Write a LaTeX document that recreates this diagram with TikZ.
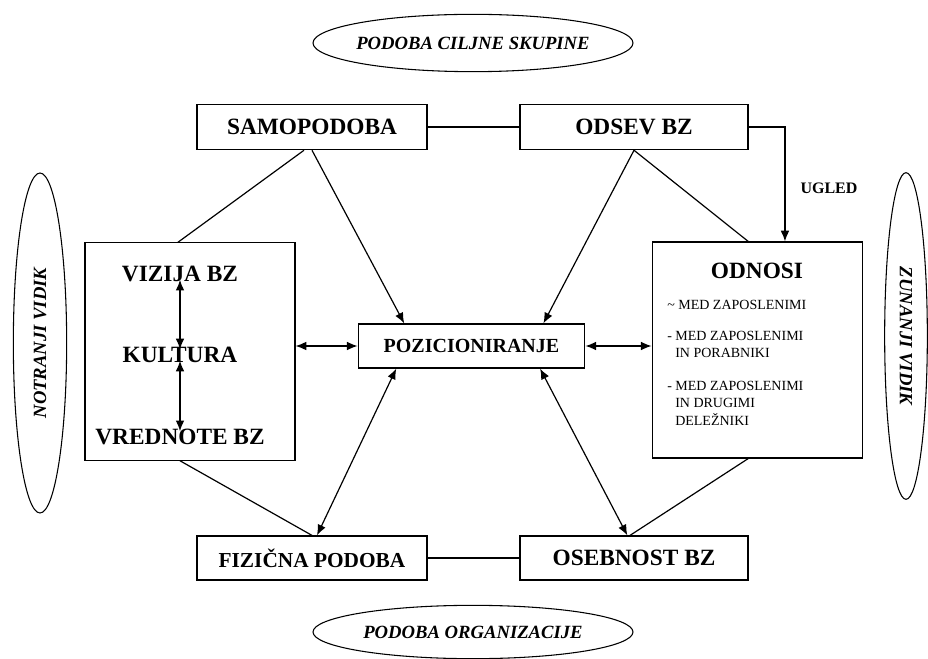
\documentclass[tikz,border=0pt]{standalone}
\usepackage{fontspec}
\setmainfont{Liberation Serif}
\usetikzlibrary{arrows.meta, shapes.geometric}

\tikzset{
  box/.style={draw, line width=0.9pt, inner sep=0pt, align=center,
    font=\bfseries\fontsize{17.5}{20}\selectfont},
  oval/.style={draw, ellipse, line width=0.8pt, inner xsep=-12pt, inner ysep=0pt,
    font=\bfseries\itshape\fontsize{14}{16}\selectfont},
  item/.style={anchor=north west, inner sep=0pt, align=left,
    font=\fontsize{10.5}{13}\selectfont},
  con/.style={line width=0.9pt},
  arr/.style={line width=0.9pt, -{Latex[length=8pt,width=6.5pt]}},
  twoarr/.style={line width=0.9pt, {Latex[length=8pt,width=6.5pt]}-{Latex[length=8pt,width=6.5pt]}}
}

\begin{document}
\begin{tikzpicture}[x=0.75pt,y=0.75pt,yscale=-1,xscale=1]
        \useasboundingbox (0,0) rectangle (928,659);

        %Shape: Ellipse [top]
        \node [oval, minimum width=240pt, minimum height=43pt] (cilj) at (473,43) {PODOBA CILJNE SKUPINE};
        %Shape: Ellipse [bottom]
        \node [oval, minimum width=240pt, minimum height=40pt] (org) at (473,632) {PODOBA ORGANIZACIJE};
        %Shape: Ellipse [left]
        \node [oval, rotate=90, minimum width=255pt, minimum height=40pt] (notrvid) at (40,343) {NOTRANJI VIDIK};
        %Shape: Ellipse [right]
        \node [oval, rotate=-90, minimum width=245pt, minimum height=32pt] (zunvid) at (906,336) {ZUNANJI VIDIK};

        %Shape: Rectangle
        \node [box, minimum width=172.5pt, minimum height=34pt] (samo) at (312,127) {SAMOPODOBA};
        %Shape: Rectangle
        \node [box, minimum width=171pt, minimum height=34pt] (odsev) at (634,127) {ODSEV BZ};
        %Shape: Rectangle
        \node [box, minimum width=170pt, minimum height=33pt, font=\bfseries\fontsize{15}{18}\selectfont] (poz) at (471.5,346) {POZICIONIRANJE};
        %Shape: Rectangle
        \node [box, minimum width=172.5pt, minimum height=33pt, font=\bfseries\fontsize{16}{19}\selectfont] (fiz) at (312,558) {FIZIČNA PODOBA};
        %Shape: Rectangle
        \node [box, minimum width=171pt, minimum height=33pt] (oseb) at (634,558) {OSEBNOST BZ};

        %Shape: Rectangle [left block]
        \node [box, minimum width=157.5pt, minimum height=163pt] (notr) at (190,351.5) {};
        % Text Node
        \node [box, draw=none] (vizija) at (180,274) {VIZIJA BZ};
        % Text Node
        \node [box, draw=none] (kultura) at (180,355) {KULTURA};
        % Text Node
        \node [box, draw=none] (vred) at (180,437) {VREDNOTE BZ};

        %Shape: Rectangle [right block]
        \node [box, minimum width=158pt, minimum height=162pt] (odnosi) at (757.5,350) {};
        % Text Node
        \node [box, draw=none] (odnt) at (757,271) {ODNOSI};
        % Text Node
        \node [item] (od1) at (667,300) {\textasciitilde{} MED ZAPOSLENIMI};
        % Text Node
        \node [item] (od2) at (667,331) {- MED ZAPOSLENIMI\\\hspace*{6pt}IN PORABNIKI};
        % Text Node
        \node [item] (od3) at (667,381) {- MED ZAPOSLENIMI\\\hspace*{6pt}IN DRUGIMI\\\hspace*{6pt}DELEŽNIKI};

        % Text Node
        \node [inner sep=0pt, font=\bfseries\fontsize{12}{14}\selectfont] (ugled) at (829,188) {UGLED};

        % connectors
        \draw [con] (samo.east) -- (odsev.west);
        \draw [arr] (odsev.east) -| ([xshift=20.6pt]odnosi.north);
        \draw [con] ([xshift=-6pt]samo.south) -- ([xshift=-9pt]notr.north);
        \draw [arr] (samo.south) -- ([xshift=35pt]poz.north west);
        \draw [arr] (odsev.south) -- ([xshift=-31.5pt]poz.north east);
        \draw [con] (odsev.south) -- ([xshift=-7pt]odnosi.north);
        \draw [twoarr] (notr.east |- poz.west) -- (poz.west);
        \draw [twoarr] (poz.east) -- (poz.east -| odnosi.west);
        \draw [twoarr] ([yshift=-2pt]vizija.south) -- ([yshift=2pt]kultura.north);
        \draw [twoarr] ([yshift=-2pt]kultura.south) -- ([yshift=2pt]vred.north);
        \draw [con] ([xshift=-7.5pt]notr.south) -- (fiz.north);
        \draw [twoarr] ([xshift=29pt]poz.south west) -- ([xshift=3.75pt]fiz.north);
        \draw [twoarr] ([xshift=-34pt]poz.south east) -- ([xshift=-5pt]oseb.north);
        \draw [con] ([xshift=-7pt]odnosi.south) -- ([xshift=-3pt]oseb.north);
        \draw [con] (fiz.east) -- (oseb.west);

\end{tikzpicture}
\end{document}
